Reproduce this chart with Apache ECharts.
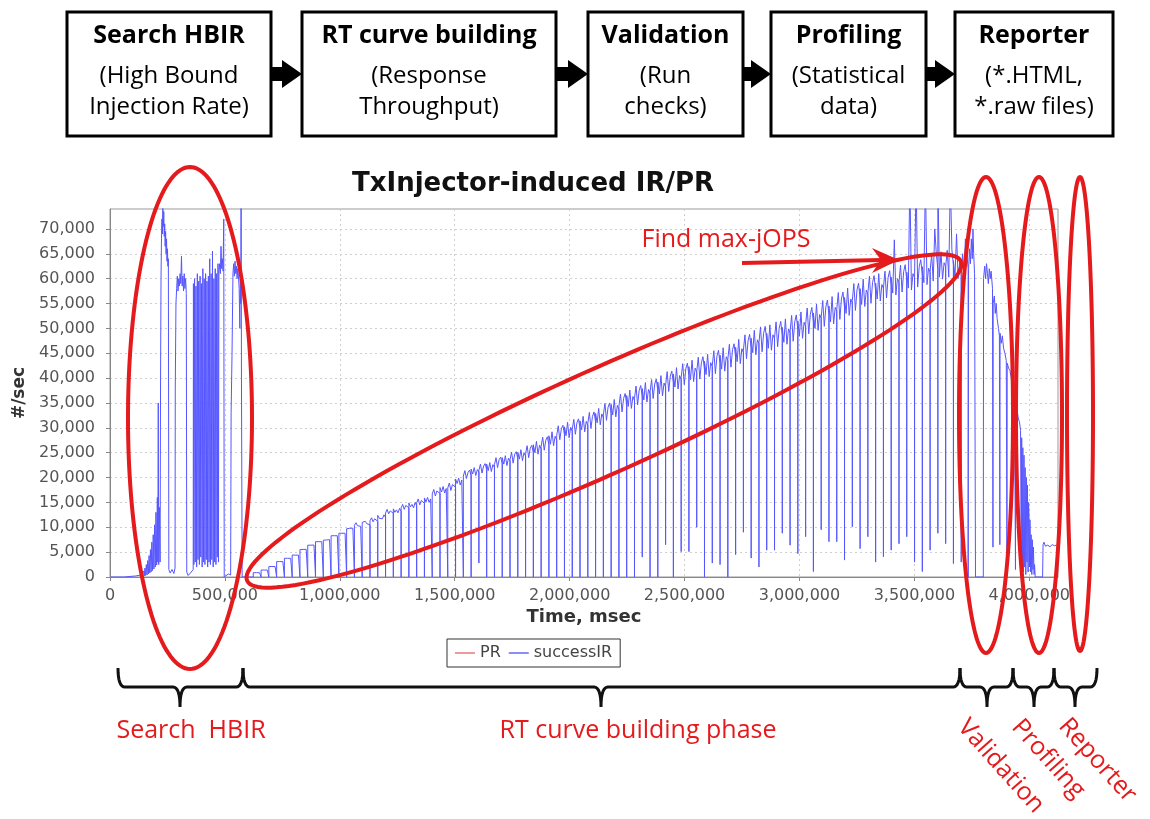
<!DOCTYPE html>
<html>
<head>
<meta charset="utf-8">
<title>TxInjector-induced IR/PR</title>
<script src="https://cdn.jsdelivr.net/npm/echarts@6.0.0/dist/echarts.min.js"></script>
<style>
html,body{margin:0;padding:0;background:#ffffff;}
#chart{width:1150px;height:819px;}
</style>
</head>
<body>
<div id="chart"></div>
<script>
// ---------------- DATA ----------------
const chartTitle = 'TxInjector-induced IR/PR';
const seriesNames = ['PR', 'successIR'];
const xAxisName = 'Time, msec';
const yAxisName = '#/sec';

// Search HBIR phase (time in msec, successIR in #/sec)
const searchTime = [0,60000,110000,135000,143000,
 146000,149000,152000,155000,158000,161000,164000,167000,170000,173000,176000,179000,182000,185000,188000,191000,194000,197000,200000,203000,206000,208000,210000,212000,215000,218000,
 220000,222000,224000,226000,228000,230000,232000,234000,236000,238000,240000,242000,244000,246000,248000,250000,252000,254000,256000,
 262000,270000,278000,283000,
 284000,287000,290000,293000,296000,299000,302000,305000,308000,311000,314000,317000,320000,323000,326000,329000,332000,334000,
 340000,350000,358000,362000,
 363000,365000,368000,371000,374000,377000,380000,383000,386000,389000,392000,395000,398000,401000,404000,407000,410000,413000,416000,419000,422000,425000,428000,431000,434000,437000,440000,443000,446000,449000,452000,455000,458000,461000,464000,467000,470000,472000,
 474000,477000,480000,483000,486000,489000,492000,495000,497000,
 505000,515000,525000,
 527000,531000,535000,538000,541000,544000,547000,550000,553000,556000,559000,562000,565000,567000,569000,570500,572000,575000,
 590000,610000];
const searchRate = [0,0,200,400,300,
 1200,200,1800,300,2500,400,3300,600,4300,800,5500,1000,7000,1300,8500,1600,10500,2000,13000,2400,16000,3000,35000,2500,14000,3000,
 40000,60000,68000,72000,69000,74500,70500,73500,68500,71000,66500,69500,65000,68000,63500,66000,62500,64000,1500,
 800,1500,700,1800,
 38000,55000,58000,60500,57500,60000,58500,61000,59000,64500,58500,60500,57500,61000,58000,60000,57000,1000,
 300,800,400,1500,
 59000,2500,60000,3000,58500,2000,61000,3500,59500,2500,60500,4000,59000,2000,62000,3000,60000,2500,61000,3500,59500,2000,60500,3000,64000,2500,61000,3500,65500,2000,60000,3000,62000,2500,61000,4000,63000,3000,
 61500,63000,61000,66500,62000,64000,61500,72000,0,
 300,600,400,
 33000,45000,61000,63000,60500,63500,61000,62500,60000,62000,60500,58000,50000,61000,55000,82000,40000,0,
 0,0];

// RT curve building phase: start time of each injection step (msec)
const stepStart = [623500,657400,691200,725100,758900,792800,826600,860500,894300,928200,
 962000,995900,1029700,1063600,1097400,1131300,1165100,1199000,1232800,1266700,
 1300500,1334400,1368200,1402100,1435900,1469800,1503600,1537500,1571300,1605200,
 1639000,1672900,1706700,1740600,1774400,1808300,1842100,1876000,1909800,1943700,
 1977500,2011400,2045200,2079100,2112900,2146800,2180600,2214500,2248300,2282200,
 2316000,2349900,2383700,2417600,2451400,2485300,2519100,2553000,2586800,2620700,
 2654500,2688400,2722200,2756100,2789900,2823800,2857600,2891500,2925300,2959200,
 2993000,3026900,3060700,3094600,3128400,3162300,3196100,3230000,3263800,3297700,
 3331500,3365400,3399200,3433100,3466900,3500800,3534600,3568500,3602300,3636200,
 3670000,3703900];
const stepEnd = 3734000;
// value the rate drops to at the start of each step
const stepDrop = [0,0,0,0,0,0,0,0,0,0, 0,0,0,0,0,0,0,0,0,0, 0,0,0,0,0,0,0,0,0,2800,
 0,0,0,0,0,0,0,0,0,0, 0,0,0,0,0,0,0,0,0,0,
 4000,0,0,6500,0,5100,5100,10000,0,2800, 2500,0,4500,9000,3800,2000,5400,5400,8800,6400,
 4700,8100,1100,9500,7100,7100,3400,10100,5700,8100, 3000,4100,5400,6700,8100,3000,1100,5400,8800,6700,
 2700,3000];
// successIR readings inside each step
const stepRates = [
 [870,870,870,870,870,870],
 [1400,1400,1400,1400,1400,1400],
 [2100,2100,2100,2100,2100,2100],
 [3100,3100,3100,3000,3100,3100],
 [3760,3800,3760,3700,3760,3760],
 [4400,4500,4400,4400,4400,4400],
 [5500,5600,5550,5500,5560,5560],
 [6400,6500,6400,6300,6430,6430],
 [7100,7200,7100,7000,7100,7100],
 [7400,7600,7450,7400,7500,7450],
 [8300,8400,8300,8200,8300,8300],
 [8800,9000,8800,8700,8800,8800],
 [9700,10000,9800,9600,9800,9800],
 [10400,10900,10300,10700,10200,10600],
 [11000,10600,11200,10700,10900,10500],
 [11300,11900,11100,11700,11600,11200],
 [12400,11800,12200,11700,12500,12000],
 [12900,13600,12700,13300,13500,12800],
 [13700,13000,13500,12900,13800,13200],
 [13900,14600,13600,14400,14700,13900],
 [14900,14100,14600,13900,15000,14300],
 [14900,15700,14500,15400,15600,14800],
 [15900,15100,16000,15000,15700,15300],
 [16700,17600,16300,17300,17700,16800],
 [18000,17100,18200,16900,17800,17400],
 [17900,18900,17400,18600,19000,18000],
 [19700,18800,19900,18500,19500,19100],
 [20300,21400,19800,21000,21500,20400],
 [21700,20700,22000,20400,21600,21100],
 [21500,22700,20900,22300,22800,21600],
 [22700,21400,23000,21200,22600,22000],
 [22600,24000,22000,23600,24100,22800],
 [24000,22700,24400,22400,23900,23300],
 [23600,25100,22900,24700,25200,23800],
 [25100,23700,25600,23400,25000,24300],
 [24800,26400,24000,25900,26500,25000],
 [26600,25000,27300,24700,26500,25700],
 [26300,28100,25500,27500,28200,26500],
 [28400,26700,29200,26400,28300,27500],
 [28500,30400,27600,29800,30500,28700],
 [30200,28400,31100,28000,30100,29300],
 [29700,31700,28700,31000,31800,29900],
 [31400,29600,32300,29200,31300,30500],
 [30900,33100,29900,32300,33200,31200],
 [32900,31000,33900,30600,32800,32000],
 [32600,34900,31500,34100,35000,32900],
 [34700,32600,35700,32200,34500,33700],
 [34400,36800,33200,35900,36900,34700],
 [36500,34300,37600,33900,36300,35500],
 [35900,38400,34600,37500,38500,36200],
 [37900,35600,39100,35200,37700,36900],
 [37200,39700,35900,38800,39800,37500],
 [39200,36800,40500,36400,39000,38200],
 [38600,41300,37300,40400,41400,39000],
 [40800,38200,42100,37800,40500,39700],
 [40100,42900,38700,41900,43000,40500],
 [42300,39700,43600,39300,42000,41200],
 [41300,44200,39800,43100,44300,41700],
 [43400,40700,44800,40300,43100,42300],
 [42500,45500,40900,44400,45600,42900],
 [44600,41800,46100,41400,44300,43500],
 [43800,46800,42200,45700,46900,44200],
 [46200,43300,47800,42900,45900,45100],
 [45600,48700,43900,47500,48800,46000],
 [48000,45100,49600,44700,47700,46900],
 [47100,50300,45300,49000,50400,47500],
 [49000,46000,50700,45600,48700,47900],
 [48100,51300,46300,50000,51400,48500],
 [50200,47200,51900,46800,49900,49100],
 [49300,52600,47400,51300,52700,49700],
 [51500,48400,53300,48000,51200,50400],
 [50800,54100,48900,52800,54200,51200],
 [53100,50000,54900,49600,52800,52000],
 [52300,55600,50400,54300,55700,52700],
 [54500,51300,56400,50900,54200,53400],
 [53800,57200,51800,55900,57300,54200],
 [56200,53000,58100,52600,55900,55100],
 [55600,59000,53600,57700,59100,56000],
 [58000,54800,59900,54400,57700,56900],
 [57100,60500,55100,59200,60600,57500],
 [59100,55900,61000,55500,58800,58000],
 [58100,61500,56100,60200,61600,58500],
 [60300,57100,67800,56700,60000,59200],
 [59300,62700,57300,61400,62800,59700],
 [61300,58100,80000,57700,61000,60200],
 [60300,80000,58300,62400,63800,60700],
 [62400,59200,80000,58800,62100,61300],
 [61500,64900,59500,70000,65000,61900],
 [80000,60300,65400,59900,63200,62400],
 [62300,65700,60300,80000,65800,62700],
 [63600,60400,69000,60000,63300,62500],
 [61600,65000,59600,68000,65100,62000]
];

// Validation / Profiling / Reporter tail
const tailTime = [3734000,3736000,3740000,3744000,3748000,3752000,3755000,3758000,3762000,3766000,3800000,
 3801000,3806000,3810000,3814000,3818000,3822000,3826000,3830000,3834000,3840000,3842000,
 3843000,3848000,3852000,3856000,3860000,3866000,3870000,3872000,
 3873000,3878000,3883000,3888000,3894000,3900000,3903000,
 3904000,3910000,3916000,3922000,3928000,3932000,3936000,3940000,
 3941000,3946000,3952000,3958000,3962000,3965000,3967000,3970000,3972000,3975000,3977000,3980000,3982000,3985000,3987000,3990000,3992000,3995000,3997000,3999000,
 4001000,4003000,4006000,4008000,4011000,4013000,4016000,4018000,4021000,4023000,4026000,4058000,
 4060000,4064000,4070000,4080000,4090000,4100000,4110000,4118000];
const tailRate = [0,62000,66000,63000,68000,64000,70000,65000,61000,0,0,
 60000,62500,60000,63000,61000,59000,62000,60000,61500,58000,6000,
 55000,56500,53000,55000,52000,50000,48500,6500,
 49000,47000,48500,46000,45000,43500,2000,
 43000,42000,41500,40000,38000,37000,35000,1500,
 36000,34000,32000,31000,29500,2000,28000,3000,26000,1000,24500,2000,22000,500,20000,3000,18500,1000,15000,12000,
 2000,11500,1000,8500,500,7500,1500,6000,500,2500,0,0,
 6500,7000,6200,6400,6100,6500,6300,6400];

// Flowchart & annotation texts
const stageTitles = ['Search HBIR', 'RT curve building', 'Validation', 'Profiling', 'Reporter'];
const stageNotes = [['(High Bound', 'Injection Rate)'], ['(Response', 'Throughput)'], ['(Run', 'checks)'], ['(Statistical', 'data)'], ['(*.HTML,', '*.raw files)']];
const phaseLabels = ['Search  HBIR', 'RT curve building phase'];
const phaseLabelsRotated = ['Validation', 'Profiling', 'Reporter'];
const peakNote = 'Find max-jOPS';

// ---------------- BUILD SERIES ----------------
const irData = [];
for (let i = 0; i < searchTime.length; i++) irData.push([searchTime[i], searchRate[i]]);
for (let i = 0; i < stepStart.length; i++) {
  const t0 = stepStart[i];
  const t1 = i + 1 < stepStart.length ? stepStart[i + 1] : stepEnd;
  const lv = stepRates[i];
  irData.push([t0, stepDrop[i]]);
  for (let k = 0; k < lv.length; k++) irData.push([t0 + (t1 - t0) * k / (lv.length - 1), lv[k]]);
}
for (let i = 0; i < tailTime.length; i++) irData.push([tailTime[i], tailRate[i]]);

function fmt(v) { return String(Math.round(v)).replace(/\B(?=(\d{3})+(?!\d))/g, ','); }

// ---------------- ANNOTATION GRAPHICS ----------------
const RED = '#e41a1c';
const CAL = '"Open Sans", "Noto Sans", sans-serif';
const G = [];
function textEl(x, y, text, size, weight, color, extra) {
  return Object.assign({ type: 'text', x: x, y: y, z: 110, silent: true,
    style: { text: text, fill: color, fontSize: size, fontWeight: weight, fontFamily: CAL, align: 'center', verticalAlign: 'middle' } }, extra || {});
}
// flowchart boxes
const boxSpan = [[67, 271], [302, 556], [588, 743], [771, 926], [955, 1113]];
boxSpan.forEach(function (b, i) {
  G.push({ type: 'rect', z: 100, silent: true, shape: { x: b[0], y: 12, width: b[1] - b[0], height: 124 },
    style: { fill: '#fff', stroke: '#000', lineWidth: 3 } });
  const cx = (b[0] + b[1]) / 2;
  G.push(textEl(cx, 36, stageTitles[i], 25, 'bold', '#000'));
  G.push(textEl(cx, 76, stageNotes[i][0], 24, 'normal', '#000'));
  G.push(textEl(cx, 107, stageNotes[i][1], 24, 'normal', '#000'));
  if (i < boxSpan.length - 1) {
    const r = b[1], l = boxSpan[i + 1][0], hs = l - 20;
    G.push({ type: 'rect', z: 100, silent: true, shape: { x: r, y: 67, width: hs - r + 1, height: 14 }, style: { fill: '#000' } });
    G.push({ type: 'polygon', z: 100, silent: true, shape: { points: [[hs, 60], [l, 74], [hs, 88]] }, style: { fill: '#000' } });
  }
});
// ellipses
function ellipsePts(cx, cy, rx, ry, rot) {
  const pts = [], c = Math.cos(rot), s = Math.sin(rot);
  for (let k = 0; k < 160; k++) {
    const t = 2 * Math.PI * k / 160, lx = rx * Math.cos(t), ly = ry * Math.sin(t);
    pts.push([cx + lx * c + ly * s, cy - lx * s + ly * c]);
  }
  return pts;
}
[[190, 418, 62, 251, 0], [604, 421, 391, 52, 0.421], [986, 415, 27, 238, 0], [1039, 415, 23, 238, 0], [1080, 414, 13, 237, 0]].forEach(function (e) {
  G.push({ type: 'polygon', z: 105, silent: true, shape: { points: ellipsePts(e[0], e[1], e[2], e[3], e[4]) },
    style: { fill: 'none', stroke: RED, lineWidth: 4 } });
});
// max-jOPS arrow
G.push({ type: 'line', z: 106, silent: true, shape: { x1: 742, y1: 263, x2: 882, y2: 260 }, style: { stroke: RED, lineWidth: 4 } });
G.push({ type: 'polygon', z: 106, silent: true, shape: { points: [[899, 260], [872, 248], [881, 260], [872, 273]] }, style: { fill: RED } });
G.push(textEl(726, 240, peakNote, 25, 'normal', RED));
// braces
function quad(p, a, c, b) { for (let k = 1; k <= 8; k++) { const t = k / 8, u = 1 - t; p.push([u * u * a[0] + 2 * u * t * c[0] + t * t * b[0], u * u * a[1] + 2 * u * t * c[1] + t * t * b[1]]); } }
function brace(a, b, m) {
  const y0 = 668, y1 = 687, y2 = 707, r = 7, p = [[a, y0]];
  quad(p, [a, y0], [a, y1], [a + r, y1]);
  p.push([m - r, y1]);
  quad(p, [m - r, y1], [m, y1], [m, y2]);
  quad(p, [m, y2], [m, y1], [m + r, y1]);
  p.push([b - r, y1]);
  quad(p, [b - r, y1], [b, y1], [b, y0]);
  return { type: 'polyline', z: 100, silent: true, shape: { points: p }, style: { stroke: '#111', lineWidth: 3, fill: null } };
}
[[118, 243, 180], [243, 960, 601], [960, 1013, 987], [1013, 1054, 1034], [1054, 1097, 1075]].forEach(function (bb) { G.push(brace(bb[0], bb[1], bb[2])); });
G.push(textEl(191, 731, phaseLabels[0], 25, 'normal', RED));
G.push(textEl(638, 731, phaseLabels[1], 25, 'normal', RED));
[[962, 723], [1016, 723], [1063, 722]].forEach(function (p, i) {
  const el = textEl(p[0], p[1], phaseLabelsRotated[i], 25, 'normal', RED);
  el.rotation = -0.84;
  el.style.align = 'left';
  G.push(el);
});

// ---------------- CHART ----------------
const chart = echarts.init(document.getElementById('chart'), null, { renderer: 'canvas' });
const axisFont = 'DejaVu Sans';
const option = {
  animation: false,
  backgroundColor: '#ffffff',
  title: { text: chartTitle, left: 533, top: 184, textAlign: 'center', textVerticalAlign: 'middle', padding: 0,
    textStyle: { fontFamily: axisFont, fontSize: 26, fontWeight: 'bold', color: '#111' } },
  legend: { left: 447, top: 639, padding: [6, 8], itemGap: 8, itemWidth: 20, itemHeight: 2, icon: 'rect',
    borderColor: '#333', borderWidth: 1, selectedMode: false,
    textStyle: { fontFamily: axisFont, fontSize: 16, color: '#444' },
    data: [{ name: seriesNames[0], itemStyle: { color: '#f29a9a' } }, { name: seriesNames[1], itemStyle: { color: '#8c8cff' } }] },
  grid: { left: 110, right: 92, top: 209, bottom: 242, show: true, borderColor: '#999', borderWidth: 1, backgroundColor: '#fff', containLabel: false, outerBoundsMode: 'none' },
  xAxis: { type: 'value', min: 0, max: 4125000, interval: 500000, offset: 6,
    name: xAxisName, nameLocation: 'middle', nameGap: 25,
    nameTextStyle: { fontFamily: axisFont, fontSize: 18, fontWeight: 'bold', color: '#333' },
    axisLine: { show: true, lineStyle: { color: '#888', width: 1 } },
    axisTick: { show: true, inside: false, length: 4, lineStyle: { color: '#888' } },
    axisLabel: { show: true, margin: 5, fontFamily: axisFont, fontSize: 16, color: '#555', showMaxLabel: false, formatter: fmt },
    splitLine: { show: true, lineStyle: { color: '#cfcfcf', type: [2, 3], width: 1 } } },
  yAxis: { type: 'value', min: 0, max: 74000, interval: 5000, offset: 3,
    name: yAxisName, nameLocation: 'middle', nameGap: 79,
    nameTextStyle: { fontFamily: axisFont, fontSize: 17, fontWeight: 'bold', color: '#333' },
    axisLine: { show: true, lineStyle: { color: '#888', width: 1 } },
    axisTick: { show: true, inside: false, length: 4, lineStyle: { color: '#888' } },
    axisLabel: { show: true, margin: 12, fontFamily: axisFont, fontSize: 16, color: '#555', showMaxLabel: false, formatter: fmt },
    splitLine: { show: true, lineStyle: { color: '#cfcfcf', type: [2, 3], width: 1 } } },
  series: [
    { name: seriesNames[0], type: 'line', data: [], symbol: 'none', itemStyle: { color: '#f29a9a' }, lineStyle: { color: '#ff6a6a', width: 1 } },
    { name: seriesNames[1], type: 'line', data: irData, symbol: 'none', showSymbol: false, sampling: null, clip: true, silent: true,
      itemStyle: { color: '#5656ff' }, lineStyle: { color: '#5656ff', width: 1 }, emphasis: { disabled: true } }
  ],
  graphic: { elements: G }
};
chart.setOption(option);
</script>
</body>
</html>
